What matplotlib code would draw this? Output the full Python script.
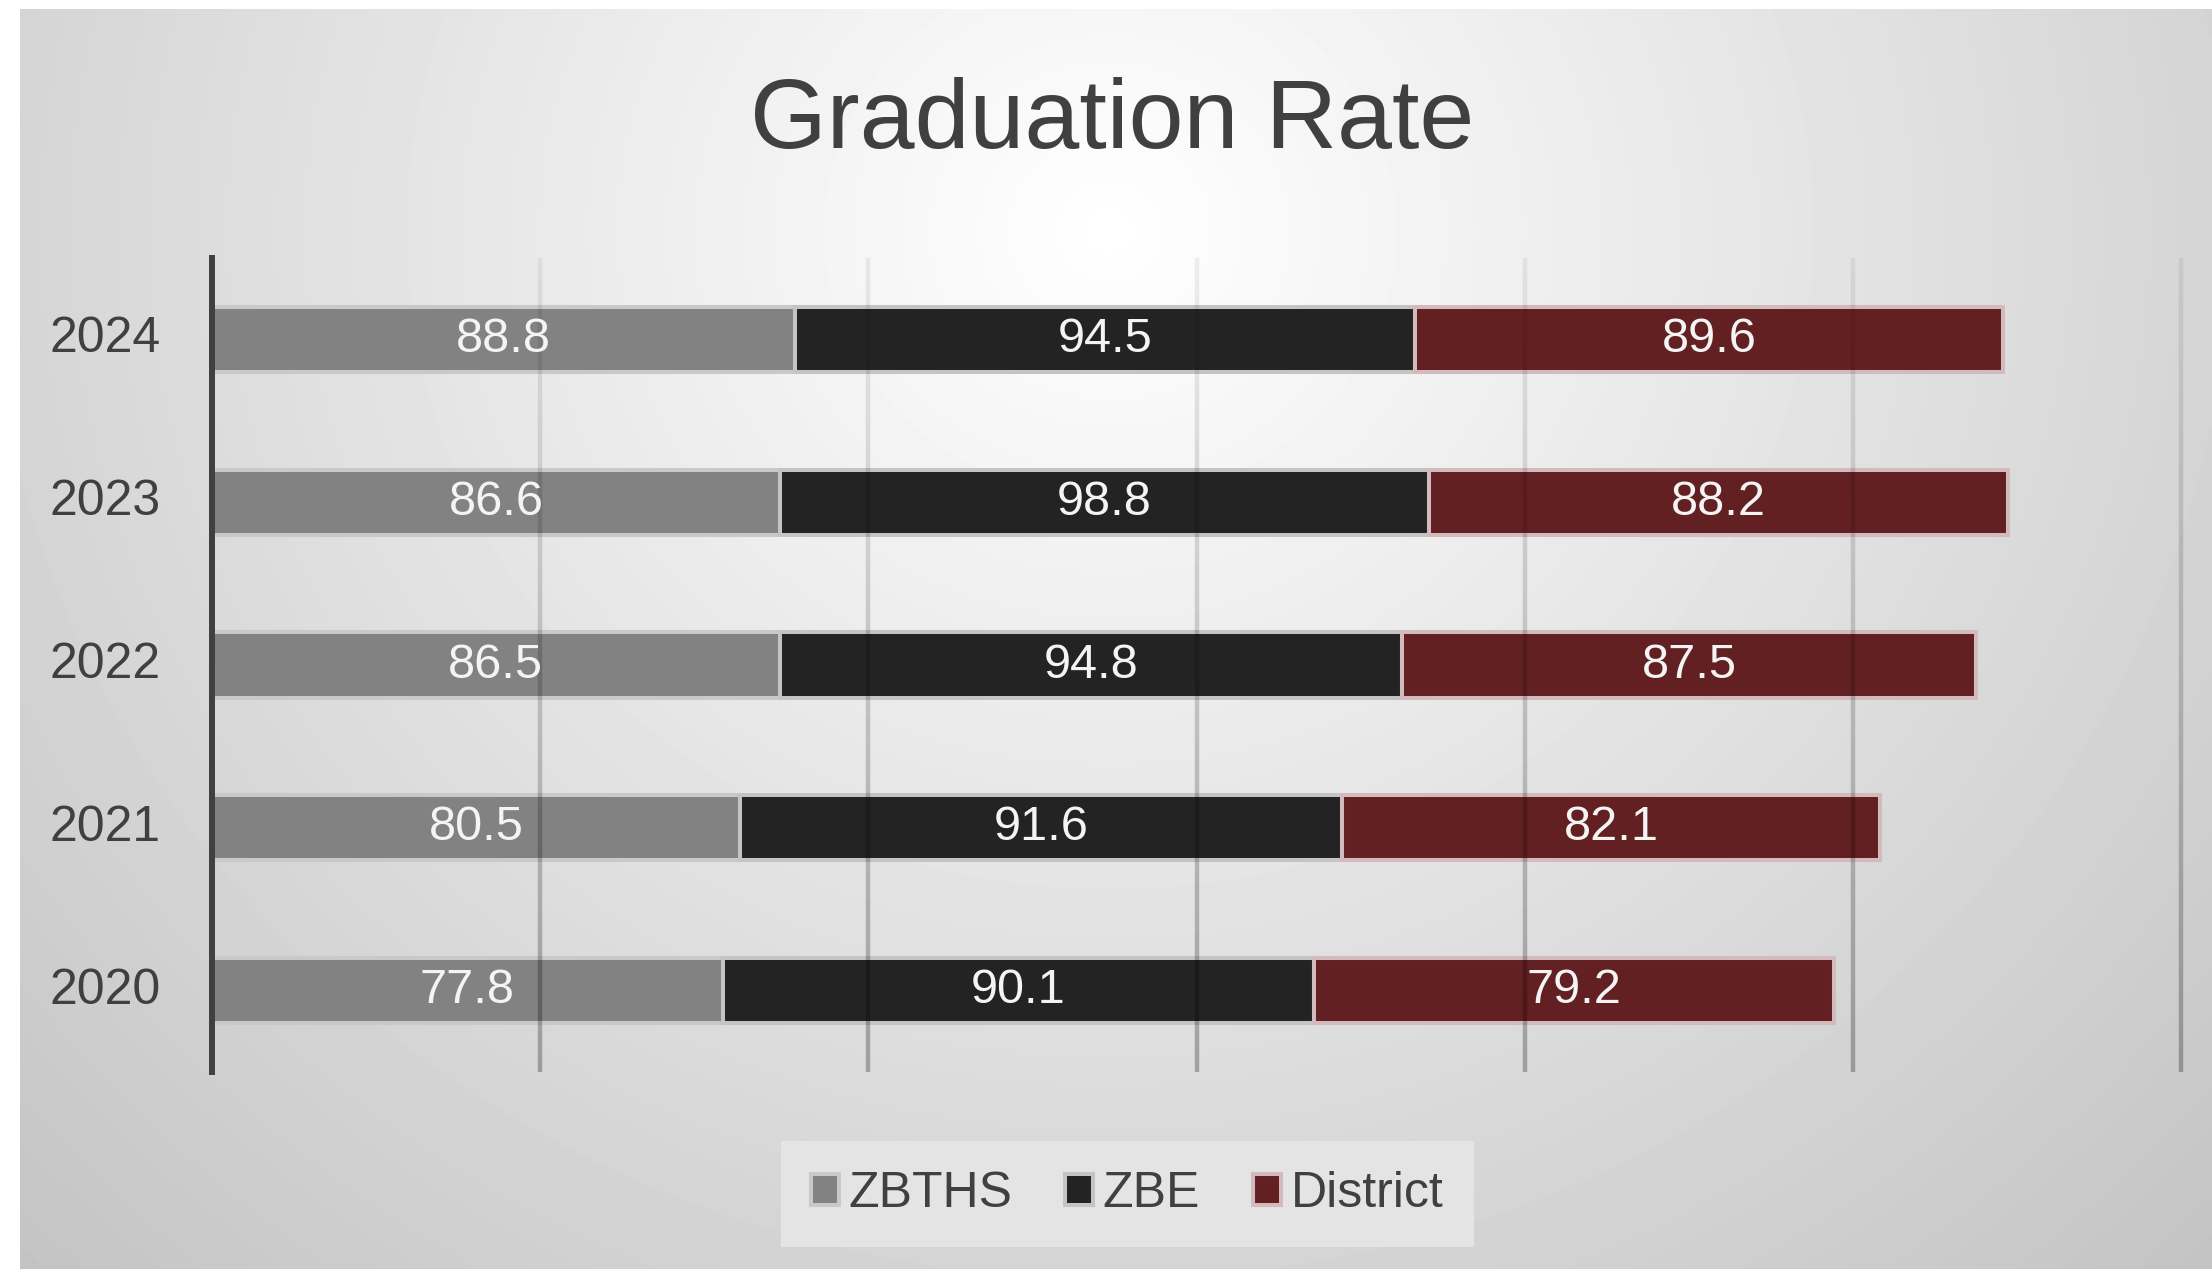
import matplotlib
matplotlib.use('Agg')
import matplotlib.pyplot as plt
import numpy as np
from matplotlib.collections import LineCollection
from matplotlib.patches import Patch

plt.rcParams['font.family'] = ['Liberation Sans', 'DejaVu Sans']

# ---- data ----
years = ['2020', '2021', '2022', '2023', '2024']
zbths = [77.8, 80.5, 86.5, 86.6, 88.8]
zbe = [90.1, 91.6, 94.8, 98.8, 94.5]
district = [79.2, 82.1, 87.5, 88.2, 89.6]
series_names = ['ZBTHS', 'ZBE', 'District']
grid_ticks = [50, 100, 150, 200, 250, 300]
title_text = 'Graduation Rate'

# ---- styles ----
fills = ['#828282', '#232323', '#632022']
edges = ['#c9c9c9', '#c4c4c4', '#d3bbbd']

W, H, dpi = 2212, 1269, 100
fig = plt.figure(figsize=(W / dpi, H / dpi), dpi=dpi)
fig.patch.set_facecolor('white')

# background radial gradient panel
bg = fig.add_axes([20 / W, 0, 1 - 20 / W, (H - 9) / H])
xs = np.linspace(20, W, 700)
ys = np.linspace(9, H, 420)
X, Y = np.meshgrid(xs, ys)
r = np.sqrt(((X - 1110) / 1100) ** 2 + ((Y - 230) / 1030) ** 2)
val = np.clip(255 - 42 * r, 0, 255) / 255.0
bg.imshow(val, cmap='gray', vmin=0, vmax=1, aspect='auto', interpolation='bilinear')
bg.axis('off')

# main axes
ax = fig.add_axes([212 / W, 1 - 1072 / H, 1969 / W, 814 / H])
ax.patch.set_alpha(0)

ypos = np.arange(len(years))
left = np.zeros(len(years))
bar_h = 0.40
for vals, name, fc, ec in zip([zbths, zbe, district], series_names, fills, edges):
    cont = ax.barh(ypos, vals, left=left, height=bar_h, color=fc, edgecolor=ec,
                   linewidth=2.9, zorder=2, label=name)
    ax.bar_label(cont, labels=[f'{v:.1f}' for v in vals], label_type='center',
                 color='#f4f4f4', fontsize=35, zorder=5)
    left = left + np.array(vals)

ax.set_xlim(0, 300)
ax.set_ylim(-0.5, len(years) - 0.5)

# gridlines with vertical alpha gradient (drawn over bars)
nseg = 80
yedges = np.linspace(len(years) - 0.5, -0.5, nseg + 1)
for gx in grid_ticks:
    segs = [[(gx, yedges[i]), (gx, yedges[i + 1])] for i in range(nseg)]
    alphas = np.linspace(0.06, 0.27, nseg)
    cols = [(0, 0, 0, a) for a in alphas]
    lc = LineCollection(segs, colors=cols, linewidths=3.2, capstyle='butt',
                        zorder=3, clip_on=False)
    ax.add_collection(lc)

ax.set_xticks([])
ax.set_yticks(ypos)
ax.set_yticklabels(years, fontsize=36, color='#404040')
for lbl in ax.get_yticklabels():
    lbl.set_va('center')
ax.tick_params(axis='y', length=0, pad=37)
for s in ['top', 'right', 'bottom']:
    ax.spines[s].set_visible(False)
ax.spines['left'].set_color('#404040')
ax.spines['left'].set_linewidth(4.3)
ax.spines['left'].set_zorder(6)

# title
fig.text(1112 / W, 1 - 148 / H, title_text, ha='center', va='baseline',
         fontsize=71, color='#404040')

# legend
handles = [Patch(facecolor=fc, edgecolor=ec, linewidth=2.9) for fc, ec in zip(fills, edges)]
leg = fig.legend(handles, series_names, loc='center',
                 bbox_to_anchor=(1127 / W, 1 - 1194 / H), bbox_transform=fig.transFigure,
                 ncol=3, fontsize=36, frameon=True, fancybox=False, framealpha=1,
                 handlelength=0.56, handleheight=0.56, handletextpad=0.2,
                 columnspacing=1.05, borderpad=0.6, borderaxespad=0,
                 labelcolor='#404040')
leg.get_frame().set_facecolor('#e4e4e4')
leg.get_frame().set_edgecolor('none')

fig.savefig('out.png', dpi=dpi)
